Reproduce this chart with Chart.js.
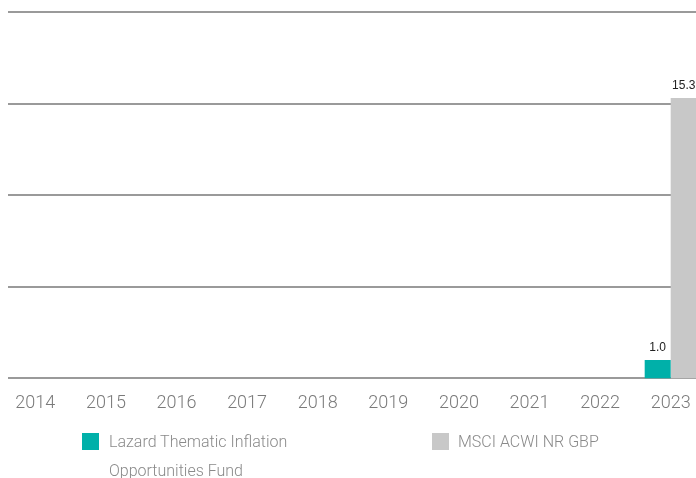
<!DOCTYPE html>
<html>
<head>
<meta charset="utf-8">
<script src="https://cdn.jsdelivr.net/npm/chart.js@4/dist/chart.umd.min.js"></script>
<style>
  html, body { margin: 0; padding: 0; width: 696px; height: 478px; overflow: hidden; background: #fff; }
  #wrap { position: absolute; left: 0; top: 0; width: 706px; height: 428px; }
  .leg { position: absolute; font-family: Roboto, "Liberation Sans", sans-serif; font-weight: 300; font-size: 16px; color: #8a8a8a; line-height: 29px; }
  .sw { position: absolute; width: 17px; height: 17px; }
</style>
</head>
<body>
<div id="wrap"><canvas id="c"></canvas></div>
<div id="legend"></div>
<script>
const categories = ["2014","2015","2016","2017","2018","2019","2020","2021","2022","2023"];
const fundValues = [null,null,null,null,null,null,null,null,null,1.0];
const indexValues = [null,null,null,null,null,null,null,null,null,15.3];
const seriesNames = ["Lazard Thematic Inflation Opportunities Fund", "MSCI ACWI NR GBP"];
const legendLines = [["Lazard Thematic Inflation", "Opportunities Fund"], ["MSCI ACWI NR GBP"]];
const yTicks = [0, 5, 10, 15, 20];
const colors = ["#00b0a9", "#c8c8c8"];

const gridPlugin = {
  id: 'gridPlugin',
  beforeDatasetsDraw(chart) {
    const ctx = chart.ctx, y = chart.scales.y;
    ctx.save();
    ctx.strokeStyle = '#9a9a9a';
    ctx.lineWidth = 2;
    yTicks.forEach(v => {
      const py = Math.round(y.getPixelForValue(v));
      ctx.beginPath();
      ctx.moveTo(8, py);
      ctx.lineTo(chart.width, py);
      ctx.stroke();
    });
    ctx.restore();
  }
};
const labelPlugin = {
  id: 'labelPlugin',
  afterDatasetsDraw(chart) {
    const ctx = chart.ctx;
    ctx.save();
    ctx.font = '12px "Liberation Sans", Arial, sans-serif';
    ctx.fillStyle = '#222';
    ctx.textAlign = 'center';
    ctx.textBaseline = 'bottom';
    chart.data.datasets.forEach((ds, di) => {
      chart.getDatasetMeta(di).data.forEach((bar, i) => {
        const v = ds.data[i];
        if (v === null || v === undefined) return;
        ctx.fillText(v.toFixed(1), bar.x, bar.y - 6);
      });
    });
    ctx.restore();
  }
};

new Chart(document.getElementById('c'), {
  type: 'bar',
  data: {
    labels: categories,
    datasets: [
      { label: seriesNames[0], data: fundValues, backgroundColor: colors[0], borderWidth: 0 },
      { label: seriesNames[1], data: indexValues, backgroundColor: colors[1], borderWidth: 0 }
    ]
  },
  options: {
    responsive: true,
    maintainAspectRatio: false,
    animation: false,
    layout: { padding: { top: 12, bottom: 8, left: 0, right: 0 } },
    plugins: { legend: { display: false }, tooltip: { enabled: false } },
    datasets: { bar: { barPercentage: 1.0, categoryPercentage: 0.737 } },
    scales: {
      x: {
        grid: { display: false },
        border: { display: false },
        ticks: { color: '#7a7a7a', font: { family: 'Roboto', weight: 300, size: 18 }, padding: 6, maxRotation: 0, autoSkip: false }
      },
      y: {
        display: false,
        min: 0, max: 20,
        afterBuildTicks(s) { s.ticks = yTicks.map(v => ({ value: v })); }
      }
    }
  },
  plugins: [gridPlugin, labelPlugin]
});

// HTML legend
const legend = document.getElementById('legend');
const legPos = [{ sx: 82, tx: 109 }, { sx: 432, tx: 458 }];
legendLines.forEach((lines, i) => {
  const sw = document.createElement('div');
  sw.className = 'sw';
  sw.style.left = legPos[i].sx + 'px';
  sw.style.top = '433px';
  sw.style.background = colors[i];
  legend.appendChild(sw);
  const t = document.createElement('div');
  t.className = 'leg';
  t.style.left = legPos[i].tx + 'px';
  t.style.top = '427px';
  t.innerHTML = lines.join('<br>');
  legend.appendChild(t);
});
</script>
</body>
</html>
